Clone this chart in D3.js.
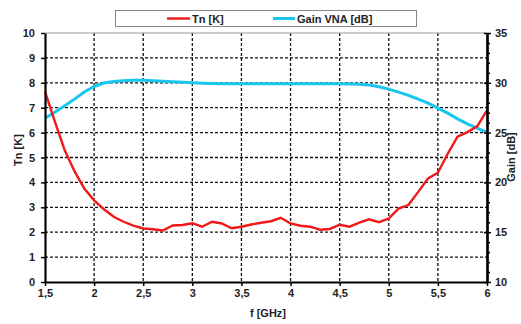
<!DOCTYPE html>
<html><head><meta charset="utf-8">
<script src="https://cdn.jsdelivr.net/npm/d3@7/dist/d3.min.js"></script>
<style>body{margin:0;background:#fff;}svg{display:block;font-family:"Liberation Sans",Arial,sans-serif;}</style>
</head><body><svg id="c" width="521" height="324"></svg>
<script>
const freq = [1.5,1.6,1.7,1.8,1.9,2.0,2.1,2.2,2.3,2.4,2.5,2.6,2.7,2.8,2.9,3.0,3.1,3.2,3.3,3.4,3.5,3.6,3.7,3.8,3.9,4.0,4.1,4.2,4.3,4.4,4.5,4.6,4.7,4.8,4.9,5.0,5.1,5.2,5.3,5.4,5.5,5.6,5.7,5.8,5.9,6.0];
const tn = [7.65,6.45,5.3,4.45,3.75,3.28,2.92,2.62,2.42,2.26,2.15,2.12,2.07,2.27,2.29,2.36,2.22,2.42,2.35,2.16,2.22,2.31,2.38,2.44,2.58,2.35,2.26,2.22,2.1,2.13,2.3,2.22,2.38,2.52,2.4,2.55,2.95,3.09,3.62,4.16,4.39,5.15,5.84,6.02,6.25,6.89];
const gain = [26.45,27.05,27.7,28.36,29.07,29.63,29.98,30.14,30.2,30.25,30.25,30.2,30.15,30.1,30.05,30.0,29.95,29.92,29.9,29.9,29.9,29.9,29.9,29.9,29.9,29.9,29.9,29.9,29.9,29.9,29.9,29.88,29.85,29.78,29.6,29.37,29.07,28.73,28.37,27.96,27.46,26.95,26.38,25.88,25.45,25.0];
const xTicks = [1.5,2,2.5,3,3.5,4,4.5,5,5.5,6];
const yTicks = [0,1,2,3,4,5,6,7,8,9,10];
const gTicks = [10,15,20,25,30,35];
const seriesNames = ["Tn [K]","Gain VNA [dB]"];

const svg = d3.select("#c");
const L=45,R=487,T=33,B=282;
const x = d3.scaleLinear().domain([1.5,6]).range([L,R]);
const y = d3.scaleLinear().domain([0,10]).range([B,T]);
const yg = d3.scaleLinear().domain([10,35]).range([B,T]);
const fmt = d=>String(d).replace(".",",");

// grid
const grid = svg.append("g");
yTicks.slice(1,-1).forEach(v=>grid.append("line").attr("x1",L).attr("x2",R).attr("y1",y(v)).attr("y2",y(v))
  .attr("stroke","#111").attr("stroke-width",1.3).attr("stroke-dasharray","3,2"));
xTicks.slice(1,-1).forEach(v=>grid.append("line").attr("y1",T).attr("y2",B).attr("x1",x(v)).attr("x2",x(v))
  .attr("stroke","#111").attr("stroke-width",1.3).attr("stroke-dasharray","3,2"));
svg.append("line").attr("x1",L).attr("x2",R).attr("y1",T).attr("y2",T).attr("stroke","#999").attr("stroke-width",1);

// lines
const lineTn = d3.line().x((d,i)=>x(freq[i])).y(d=>y(d));
const lineG = d3.line().x((d,i)=>x(freq[i])).y(d=>yg(d));
svg.append("path").datum(gain).attr("d",lineG).attr("fill","none").attr("stroke","#19c6ee").attr("stroke-width",3);
svg.append("path").datum(tn).attr("d",lineTn).attr("fill","none").attr("stroke","#f01818").attr("stroke-width",2.4);

// axes
const ax = svg.append("g").attr("transform",`translate(0,${B})`)
  .call(d3.axisBottom(x).tickValues(xTicks).tickFormat(fmt).tickSize(4).tickSizeOuter(0));
const ay = svg.append("g").attr("transform",`translate(${L},0)`)
  .call(d3.axisLeft(y).tickValues(yTicks).tickSize(4).tickSizeOuter(0));
const ayr = svg.append("g").attr("transform",`translate(${R},0)`)
  .call(d3.axisRight(yg).tickValues(gTicks).tickSize(4).tickSizeOuter(0));
const ayrMinor = svg.append("g").attr("transform",`translate(${R},0)`)
  .call(d3.axisRight(yg).tickValues(d3.range(11,35).filter(v=>v%5)).tickSize(3).tickFormat("").tickSizeOuter(0));
[ax,ay,ayr,ayrMinor].forEach(g=>{
  g.select(".domain").attr("stroke","#000").attr("stroke-width",2.2);
  g.selectAll(".tick line").attr("stroke","#000").attr("stroke-width",1.5);
  g.selectAll("text").attr("fill","#222").attr("font-size",11).attr("font-weight","bold").attr("font-family","Liberation Sans, Arial, sans-serif");
});
ax.selectAll(".tick text").attr("dy","0.75em");
ay.selectAll(".tick text").attr("x",-10);
ayr.selectAll(".tick text").attr("x",8);
ayr.selectAll(".tick line").attr("x1",-3);

// axis titles
const tf = {"font-size":11,"font-weight":"bold","fill":"#222"};
function txt(s,xx,yy,rot,anchor){const t=svg.append("text").text(s).attr("x",xx).attr("y",yy).attr("text-anchor",anchor||"middle");
  Object.entries(tf).forEach(([k,v])=>t.attr(k,v)); if(rot) t.attr("transform",`rotate(${rot},${xx},${yy})`); return t;}
txt("f [GHz]",268,317);
txt("Tn [K]",22,150,-90);
txt("Gain [dB]",515,157,-90);

// legend
svg.append("rect").attr("x",115.5).attr("y",10.5).attr("width",301).attr("height",16).attr("fill","#fff").attr("stroke","#888").attr("stroke-width",1);
svg.append("line").attr("x1",167).attr("x2",190).attr("y1",18.5).attr("y2",18.5).attr("stroke","#f01818").attr("stroke-width",2.4);
txt(seriesNames[0],192,22.5,0,"start");
svg.append("line").attr("x1",273).attr("x2",295).attr("y1",18.5).attr("y2",18.5).attr("stroke","#19c6ee").attr("stroke-width",3);
txt(seriesNames[1],297,22.5,0,"start");
</script></body></html>
